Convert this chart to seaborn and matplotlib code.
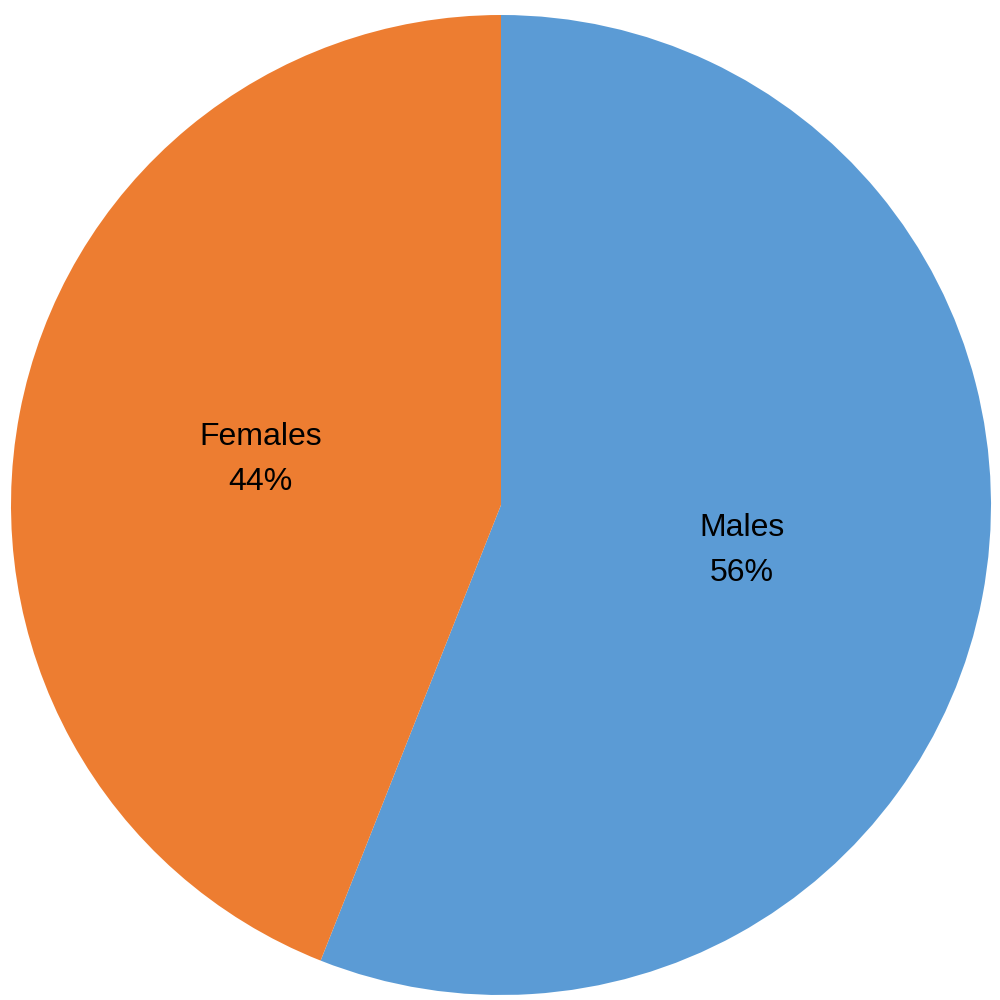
import matplotlib
matplotlib.use('Agg')
import matplotlib.pyplot as plt
import seaborn as sns

# Gender split of respondents
labels = ['Males', 'Females']
shares = [56, 44]
colors = sns.color_palette(['#5B9BD5', '#ED7D31'])

sns.set_style('white')
plt.rcParams['font.family'] = ['Liberation Sans', 'DejaVu Sans']

fig = plt.figure(figsize=(10, 10), dpi=100)
ax = fig.add_axes([0.011, 0.005, 0.98, 0.98])

pct_iter = iter(labels)
ax.pie(shares, colors=colors, startangle=90, counterclock=False,
       radius=1, pctdistance=0.5,
       autopct=lambda p: f'{next(pct_iter)}\n{p:.0f}%',
       wedgeprops={'linewidth': 0},
       textprops={'fontsize': 23, 'color': 'black', 'linespacing': 1.65})

ax.set_xlim(-1, 1)
ax.set_ylim(-1, 1)
ax.set_aspect('equal')
ax.axis('off')

fig.savefig('out.png', dpi=100, facecolor='white')
